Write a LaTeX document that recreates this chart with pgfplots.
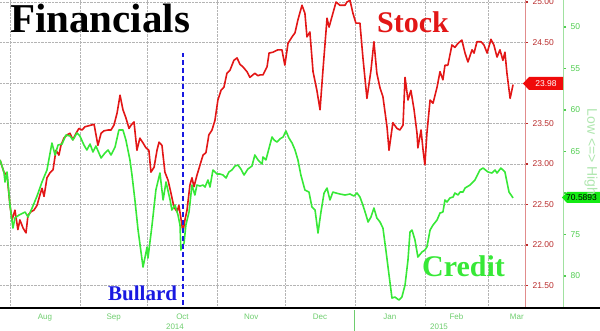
\documentclass[border=0pt]{standalone}
\usepackage{pgfplots}
\pgfplotsset{compat=1.18}
\usepackage{fontspec}
\setmainfont{Liberation Sans}
\newfontfamily\serifb{Liberation Serif}
\definecolor{stockred}{RGB}{226,22,22}
\definecolor{creditgreen}{RGB}{55,232,55}
\definecolor{redlab}{RGB}{185,45,45}
\definecolor{greenlab}{RGB}{80,205,80}
\definecolor{monthgreen}{RGB}{110,205,110}
\definecolor{gridgray}{RGB}{180,180,180}
\definecolor{baseline}{RGB}{100,118,100}
\definecolor{bullblue}{RGB}{25,25,225}
\definecolor{lowhigh}{RGB}{175,230,175}
\definecolor{redaxis}{RGB}{225,140,140}
\definecolor{greenaxis}{RGB}{160,225,160}
\definecolor{greenbox}{RGB}{20,235,20}
\definecolor{redbox}{RGB}{240,10,10}
\begin{document}
\begin{tikzpicture}
\useasboundingbox (0,-24pt) rectangle (600pt,307pt);
% ---- Stock (left data axis, red scale on the right) ----
\begin{axis}[
  at={(0,0)}, anchor=south west,
  width=525pt, height=307pt, scale only axis,
  xmin=-4.43, xmax=228.4, ymin=21.235, ymax=25.025,
  axis line style={draw=none},
  ytick={21.5,22,22.5,23,23.5,24,24.5,25},
  yticklabels={21.50,22.00,22.50,23.00,23.50,,24.50,25.00},
  ytick pos=right, yticklabel pos=right,
  tick align=outside,
  major tick length=3pt,
  ytick style={color=redlab, line width=1.3pt},
  yticklabel style={text=redlab, font=\fontsize{8.5}{9}\selectfont, xshift=1pt},
  xtick={0,31,61,92,122,153,184,212},
  xticklabels={,,,,,,,},
  xtick style={draw=none},
  grid=major,
  major grid style={densely dotted, color=gridgray, line width=0.7pt},
  extra x ticks={15.5,46,76.5,107,137.5,168.5,198,224.8},
  extra x tick labels={Aug,Sep,Oct,Nov,Dec,Jan,Feb,Mar},
  extra x tick style={grid=none, major tick length=0pt,
    tick label style={text=monthgreen, font=\fontsize{8}{9}\selectfont, yshift=-3pt}},
]
\addplot[stockred, line width=1.6pt, line join=round] table {
-4.4 23.05
-2.7 22.90
-1.3 22.86
0.0 22.49
0.9 22.31
2.2 22.43
3.5 22.19
4.4 22.31
5.8 22.21
7.1 22.15
8.0 22.37
9.3 22.41
10.6 22.43
12.0 22.49
13.3 22.62
14.2 22.70
15.1 22.60
16.4 22.83
17.7 22.89
19.1 22.93
20.4 23.17
21.7 23.11
22.6 23.23
23.9 23.32
25.3 23.36
26.6 23.38
27.9 23.30
29.3 23.38
30.6 23.44
31.9 23.42
33.3 23.46
34.6 23.47
35.9 23.48
37.3 23.49
39.0 23.23
40.4 23.38
41.7 23.41
43.5 23.42
44.8 23.42
46.1 23.48
47.5 23.63
48.8 23.85
50.1 23.67
51.4 23.57
52.8 23.44
53.7 23.48
55.0 23.52
56.3 23.17
57.6 23.32
59.0 23.26
60.3 23.20
61.6 23.17
62.5 22.90
63.9 22.96
65.2 23.17
66.1 23.27
67.4 23.23
68.7 22.90
70.1 22.80
71.4 22.64
72.7 22.47
74.1 22.41
74.9 22.49
75.8 22.33
76.7 22.16
77.6 22.31
78.5 22.43
79.8 22.74
80.7 22.83
81.6 22.72
82.9 22.86
84.3 22.99
85.6 23.11
86.9 23.14
88.2 23.36
89.6 23.42
90.9 23.54
92.2 23.79
93.6 23.91
94.9 23.95
96.2 24.12
97.6 24.16
99.3 24.28
100.7 24.31
102.0 24.23
103.3 24.20
105.1 24.14
106.4 24.07
108.6 24.12
110.0 24.09
110.9 24.10
112.2 24.10
114.0 24.20
114.9 24.37
116.6 24.38
118.8 24.41
120.6 24.41
121.9 24.22
123.3 24.49
125.1 24.57
126.4 24.62
127.7 24.78
129.5 24.96
130.8 24.86
131.7 24.57
133.0 24.63
134.4 24.14
136.1 23.91
137.5 23.67
138.8 24.16
140.6 24.80
141.5 24.69
143.2 24.86
144.6 25.00
146.3 24.96
148.6 24.96
149.4 25.00
150.8 25.02
152.1 24.86
153.4 24.74
155.2 24.74
156.5 24.32
158.3 23.81
160.1 24.16
161.4 24.51
162.7 24.12
164.1 23.94
165.4 23.83
167.2 23.46
168.1 23.17
169.8 23.51
171.6 23.44
172.9 23.42
174.3 23.48
175.2 24.07
176.5 23.79
177.8 23.91
179.2 23.67
180.5 23.38
180.9 23.20
182.3 23.42
183.2 23.17
184.0 22.99
184.9 23.38
186.3 23.79
187.6 23.75
189.4 23.95
190.7 24.14
192.0 24.04
192.9 24.22
194.2 24.22
196.0 24.47
197.3 24.44
198.7 24.49
200.4 24.53
201.8 24.37
203.1 24.26
204.9 24.41
205.8 24.37
207.1 24.51
208.9 24.51
210.2 24.47
211.6 24.37
213.3 24.54
214.6 24.47
216.0 24.32
217.3 24.41
218.6 24.28
219.5 24.38
220.4 24.12
221.8 23.81
223.1 23.98
};
\end{axis}
% ---- Credit (inverted scale) ----
\begin{axis}[
  at={(0,0)}, anchor=south west,
  width=525pt, height=307pt, scale only axis,
  xmin=-4.43, xmax=228.4, ymin=46.75, ymax=83.73, y dir=reverse,
  hide axis,
]
\addplot[creditgreen, line width=1.6pt, line join=round] table {
-4.4 66.02
-2.7 67.47
-2.2 68.67
-1.3 67.47
0.0 71.45
1.3 74.22
2.2 73.01
4.0 72.65
6.7 72.29
8.0 72.89
9.8 71.81
12.0 70.36
14.2 68.67
16.4 67.23
18.6 63.98
20.0 65.42
21.3 64.22
23.1 64.10
24.8 63.01
26.6 63.13
27.9 63.61
29.7 62.77
31.0 63.13
32.8 64.22
34.1 64.82
35.5 64.10
36.8 65.06
38.1 64.34
40.4 65.78
42.1 65.18
43.5 64.82
44.8 65.42
46.6 64.46
48.3 62.41
50.1 62.41
51.4 63.61
53.2 66.02
54.1 67.83
55.4 70.84
56.8 74.46
59.0 78.92
60.8 76.51
61.2 77.83
63.0 73.86
64.7 69.64
66.5 67.59
67.9 70.84
69.2 68.67
71.0 70.84
71.8 72.05
73.2 71.45
74.5 72.65
75.4 73.86
75.8 76.87
77.2 76.02
78.0 73.86
79.4 72.29
80.7 69.04
82.0 70.24
82.9 69.04
84.3 69.16
85.6 69.04
86.5 69.28
87.8 68.43
88.7 69.28
90.0 67.23
91.8 67.71
93.1 67.71
94.5 67.83
95.8 68.19
97.1 67.47
98.4 67.23
99.8 66.75
101.1 66.63
102.4 67.11
103.8 67.83
105.5 67.11
107.3 66.75
108.6 65.42
110.0 66.02
111.8 66.51
112.2 65.66
113.5 66.02
114.9 64.58
116.2 63.25
117.1 63.61
118.4 63.86
119.7 63.49
121.1 63.25
122.4 62.53
123.7 63.37
125.1 63.98
126.4 64.82
127.7 66.02
129.0 67.83
130.8 69.64
132.6 69.88
133.9 71.69
135.3 72.05
136.6 74.82
137.9 72.29
139.3 70.00
140.6 69.40
141.9 70.84
143.2 69.88
144.6 70.00
146.3 70.12
148.6 70.24
150.8 70.12
152.5 70.36
153.9 70.00
155.2 70.48
156.5 71.45
157.9 72.65
158.8 73.49
160.1 72.89
161.4 71.81
162.7 73.01
164.1 73.49
165.4 74.22
166.7 76.87
168.1 79.88
169.4 82.65
170.7 82.53
172.5 82.89
173.8 82.53
175.2 81.08
176.5 78.07
177.4 74.70
178.3 74.46
179.6 75.66
180.9 77.71
182.7 77.11
184.0 76.87
184.9 76.51
186.3 74.46
187.6 73.86
189.4 73.25
190.7 72.41
192.0 72.29
192.9 70.84
193.8 71.08
195.1 70.60
196.5 70.48
197.3 70.00
198.7 70.24
199.6 69.88
200.9 69.88
201.8 69.40
204.0 69.04
206.2 68.43
208.4 67.23
209.8 66.99
212.0 67.47
213.7 67.59
215.1 67.23
216.0 67.59
217.7 66.99
219.5 67.47
220.4 68.67
221.3 69.88
223.1 70.59
};
\end{axis}
% ---- Credit scale ticks (second right axis) ----
\begin{axis}[
  at={(0,0)}, anchor=south west,
  width=563pt, height=307pt, scale only axis,
  xmin=0, xmax=1, ymin=46.75, ymax=83.73, y dir=reverse,
  axis line style={draw=none},
  xtick=\empty,
  ytick={50,55,60,65,70,75,80},
  yticklabels={50,55,60,65,,75,80},
  ytick pos=right, yticklabel pos=right,
  tick align=outside, major tick length=3pt,
  ytick style={color=greenlab, line width=1.3pt},
  yticklabel style={text=greenlab, font=\fontsize{8.5}{9}\selectfont, xshift=1pt},
]
\end{axis}
% ---- decorations ----
\draw[redaxis, line width=0.7pt] (525.5pt,0) -- (525.5pt,307pt);
\draw[greenaxis, line width=0.7pt] (563pt,0) -- (563pt,307pt);
\draw[baseline, line width=2.5pt] (0,-1pt) -- (600pt,-1pt);
\draw[monthgreen, line width=0.5pt] (354pt,-3pt) -- (354pt,-24pt);
\node[text=monthgreen, font=\fontsize{8}{9}\selectfont] at (175pt,-20pt) {2014};
\node[text=monthgreen, font=\fontsize{8}{9}\selectfont] at (439pt,-20pt) {2015};
\draw[bullblue, line width=2pt, dash pattern=on 5pt off 3pt] (183pt,2pt) -- (183pt,254pt);
\node[anchor=base west, inner sep=0pt, font=\serifb\bfseries\fontsize{41}{41}\selectfont] at (10pt,274pt) {Financials};
\node[anchor=base west, inner sep=0pt, text=stockred, font=\serifb\bfseries\fontsize{30}{30}\selectfont] at (377pt,274pt) {Stock};
\node[anchor=base west, inner sep=0pt, text=creditgreen, font=\serifb\bfseries\fontsize{30}{30}\selectfont] at (422pt,30pt) {Credit};
\node[anchor=base west, inner sep=0pt, text=bullblue, font=\serifb\bfseries\fontsize{21}{21}\selectfont] at (108pt,6pt) {Bullard};
\fill[redbox] (523pt,223.5pt) -- (529pt,230pt) -- (563pt,230pt) -- (563pt,217pt) -- (529pt,217pt) -- cycle;
\node[text=white, font=\fontsize{8.5}{9}\selectfont] at (546pt,223.5pt) {23.98};
\fill[greenbox] (562pt,109.5pt) -- (567pt,115pt) -- (602pt,115pt) -- (602pt,104pt) -- (567pt,104pt) -- cycle;
\node[text=black, font=\fontsize{8.5}{9}\selectfont, anchor=west, inner sep=0pt] at (566pt,109.5pt) {70.5893};
\node[rotate=-90, text=lowhigh, font=\fontsize{14}{14}\selectfont] at (591pt,155pt) {Low <=> High};
\end{tikzpicture}
\end{document}
